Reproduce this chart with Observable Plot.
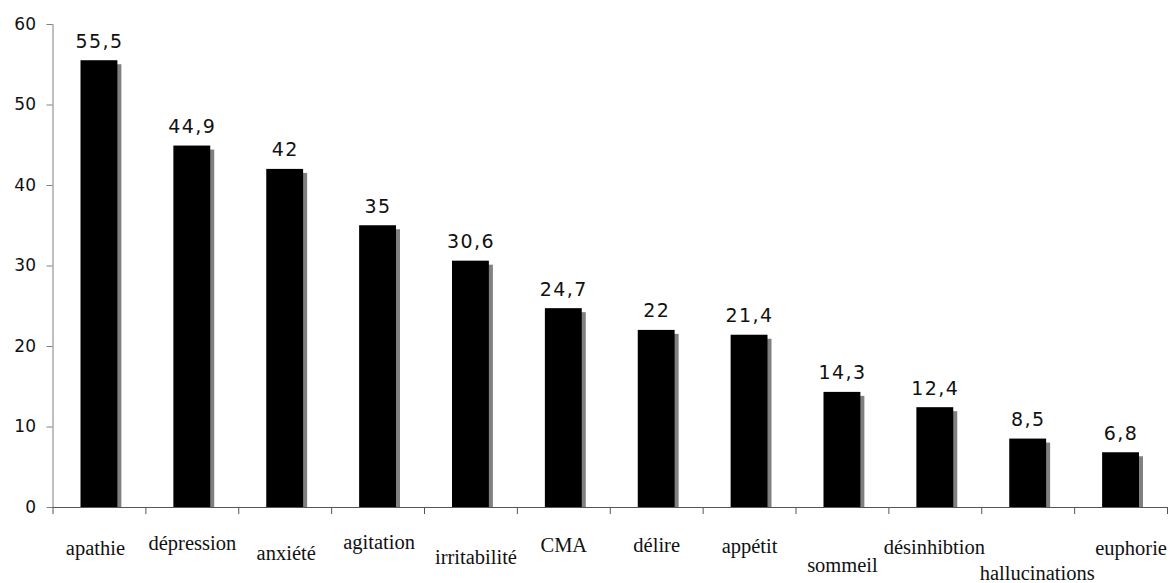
<!DOCTYPE html>
<html><head><meta charset="utf-8">
<script src="https://cdn.jsdelivr.net/npm/d3@7"></script>
<script src="https://cdn.jsdelivr.net/npm/@observablehq/plot@0.6"></script>
<style>body{margin:0;background:#fff}</style>
</head><body><div id="chart"></div>
<script>
const categories = ["apathie","dépression","anxiété","agitation","irritabilité","CMA","délire","appétit","sommeil","désinhibtion","hallucinations","euphorie"];
const values = [55.5, 44.9, 42, 35, 30.6, 24.7, 22, 21.4, 14.3, 12.4, 8.5, 6.8];
const yTicks = [0, 10, 20, 30, 40, 50, 60];

const data = categories.map((c, i) => ({category: c, value: values[i]}));

const width = 1171, height = 583, ml = 52.5, mr = 4, mt = 24, mb = 76;
const step = (width - ml - mr) / categories.length;
// staggered label layout [dx, dy below axis]
const labelLayout = [[-4,47],[0,42],[1,52],[1,41],[5,56],[0,44],[0,44],[0,45],[0,64],[-1,46],[9,72],[10,47]];

const fmt = v => String(v).replace(".", ",");

const plot = Plot.plot({
  width, height, marginLeft: ml, marginRight: mr, marginTop: mt, marginBottom: mb,
  style: {fontFamily: "DejaVu Sans", fontSize: "16px", color: "#111", background: "#fff"},
  x: {domain: categories, padding: 0, round: false, axis: null},
  y: {domain: [0, 60]},
  marks: [
    Plot.axisY({ticks: yTicks, tickSize: 6, tickPadding: 11, label: null, tickFormat: d => String(d), fontSize: 17, fontFamily: "DejaVu Sans", stroke: "#808080", fill: "#111"}),
    Plot.barY(data, {x: "category", y: "value", fill: "#808080", insetLeft: 28, insetRight: 28, insetBottom: 4, dx: 4, dy: 4}),
    Plot.barY(data, {x: "category", y: "value", fill: "#000", insetLeft: 28, insetRight: 28}),
    Plot.ruleY([0], {stroke: "#555"}),
    Plot.ruleX([categories[0]], {x: d => d, dx: -step / 2, y1: 0, y2: 60, stroke: "#808080"}),
    Plot.ruleX(categories, {x: d => d, dx: -step / 2, y1: 0, y2: 0, insetBottom: -7, stroke: "#555"}),
    Plot.ruleX([categories[categories.length - 1]], {x: d => d, dx: step / 2, y1: 0, y2: 0, insetBottom: -7, stroke: "#555"}),
    Plot.text(data, {x: "category", y: "value", text: d => fmt(d.value), dy: -13, lineAnchor: "bottom", fontFamily: "DejaVu Sans", fontSize: 19, fill: "#111"}),
    ...categories.map((c, i) => Plot.text([c], {x: d => d, text: d => d, frameAnchor: "bottom", lineAnchor: "bottom", dx: labelLayout[i][0], dy: labelLayout[i][1], fontFamily: "Liberation Serif", fontSize: 20.5, fill: "#111"}))
  ]
});

const sel = d3.select(plot);
const textGroups = sel.selectAll('g[aria-label="text"]').nodes();
if (textGroups.length) d3.select(textGroups[0]).selectAll("text").attr("letter-spacing", "1.4px");
document.getElementById("chart").appendChild(plot);
</script>
</body></html>
